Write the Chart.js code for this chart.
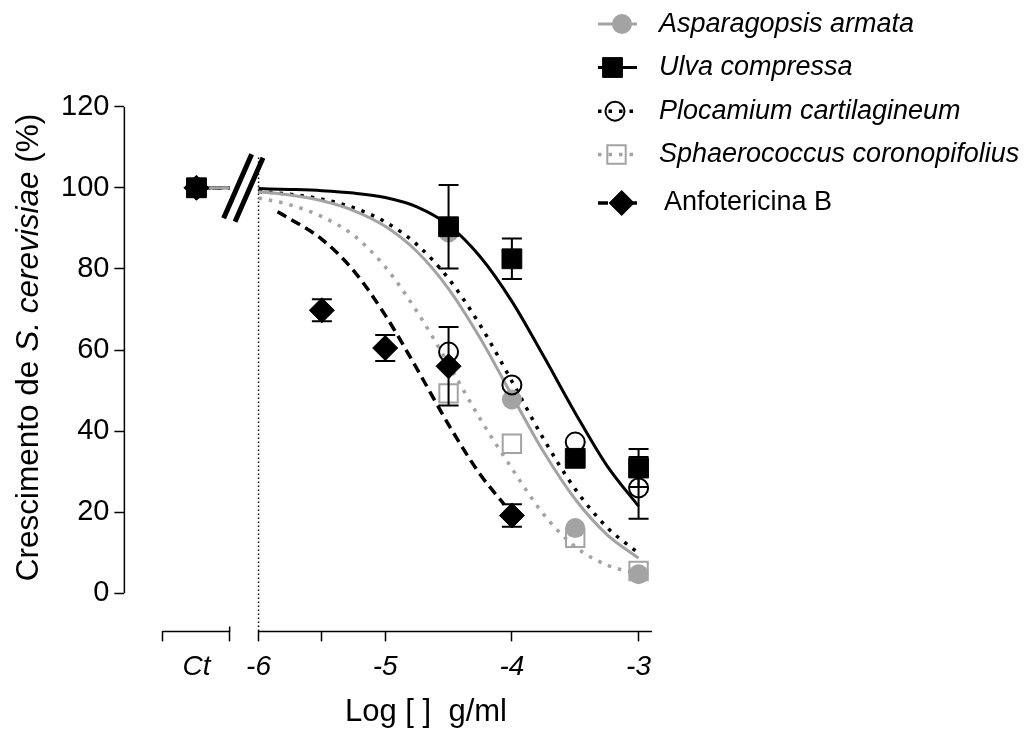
<!DOCTYPE html>
<html><head><meta charset="utf-8">
<script src="https://cdn.jsdelivr.net/npm/chart.js@4/dist/chart.umd.min.js"></script>
<style>html,body{margin:0;padding:0;background:#fff}#wrap{width:1025px;height:735px;position:relative}</style>
</head><body><div id="wrap"><canvas id="c" width="1025" height="735"></canvas></div>
<script>
// ---------------- data ----------------
const seriesNames = ['Asparagopsis armata', 'Ulva compressa', 'Plocamium cartilagineum', 'Sphaerococcus coronopifolius', 'Anfotericina B'];
const ctLabel = 'Ct';
const ctValues = [100, 100, 100, 100, 100];
const algaeLogConc = [-4.5, -4, -3.5, -3];
const anfoLogConc = [-5.5, -5, -4.5, -4];
const asparagopsisMean = [89.0, 47.8, 16.1, 4.7];
const asparagopsisSem  = [0, 0, 0, 0];
const ulvaMean = [90.4, 82.5, 33.3, 30.9];
const ulvaSem  = [10.3, 5.0, 0, 4.7];
const plocamiumMean = [59.5, 51.4, 37.3, 26.0];
const plocamiumSem  = [0, 0, 0, 7.6];
const sphaerococcusMean = [49.3, 36.9, 13.7, 5.5];
const sphaerococcusSem  = [0, 0, 0, 0];
const anfotericinaMean = [69.8, 60.5, 56.0, 19.2];
const anfotericinaSem  = [2.7, 3.2, 9.7, 2.8];
// fitted curves, values
const fitLogConc = [-6, -5.75, -5.5, -5.25, -5, -4.75, -4.5, -4.25, -4, -3.75, -3.5, -3.25, -3];
const asparagopsisFit  = [99.0, 98.2, 96.8, 94.4, 90.5, 84.3, 75.1, 62.9, 48.8, 34.9, 23.2, 14.5, 8.7];
const ulvaFit          = [99.8, 99.6, 99.3, 98.7, 97.6, 95.3, 90.8, 83.0, 72.0, 58.5, 44.5, 31.5, 21.5];
const plocamiumFit     = [99.1, 98.4, 97.2, 95.1, 91.6, 86.0, 77.6, 66.1, 52.3, 38.1, 25.7, 16.3, 9.9];
const sphaerococcusFit = [97.5, 95.8, 92.9, 88.3, 80.5, 69.5, 56.5, 43.0, 30.8, 19.5, 11.5, 7.0, 4.8];
const anfoFitLogConc = [-5.85, -5.75, -5.5, -5.25, -5, -4.75, -4.5, -4.25, -4.06];
const anfotericinaFit = [94.1, 92.3, 87.3, 79.6, 68.6, 55.4, 41.6, 29.3, 21.9];
const xTickLabels = ['-6', '-5', '-4', '-3'];
const xMinorTicks = [-5.5];
const yTickValues = [0, 20, 40, 60, 80, 100, 120];
const yTitleParts = [['Crescimento de ', false], ['S. cerevisiae', true], [' (%)', false]];
const xTitle = 'Log [ ]  g/ml';

// ---------------- layout / style ----------------
const FONT = 'Arial, "Liberation Sans", sans-serif';
const CT_X = -6.49, CT_SEG = [-6.756, -6.228];
const X_MIN = -7.059, X_MAX = -2.894, Y_MIN = -9.38, Y_MAX = 120;
const BLACK = '#000000', GRAY = '#a3a3a3';
const styles = [
  {color: GRAY,  dash: [],       shape: 'circle',  r: 10,   fill: GRAY,  bw: 0, lw: 3},
  {color: BLACK, dash: [],       shape: 'rect',    r: 14,   fill: BLACK, bw: 1, lw: 3},
  {color: BLACK, dash: [3.5, 7], shape: 'circle',  r: 9.5,  fill: 'rgba(0,0,0,0)', bw: 2, lw: 3.5},
  {color: GRAY,  dash: [3.5, 7], shape: 'rect',    r: 13,   fill: 'rgba(0,0,0,0)', bw: 2, lw: 3.5},
  {color: BLACK, dash: [10, 6],  shape: 'rectRot', r: 12.5, fill: BLACK, bw: 1, lw: 3.5}
];
const means = [asparagopsisMean, ulvaMean, plocamiumMean, sphaerococcusMean, anfotericinaMean];
const sems = [asparagopsisSem, ulvaSem, plocamiumSem, sphaerococcusSem, anfotericinaSem];
const concs = [algaeLogConc, algaeLogConc, algaeLogConc, algaeLogConc, anfoLogConc];
const fits = [asparagopsisFit, ulvaFit, plocamiumFit, sphaerococcusFit, anfotericinaFit];
const fitXs = [fitLogConc, fitLogConc, fitLogConc, fitLogConc, anfoFitLogConc];
const pointOrder = [3, 1, 2, 4, 0];

const datasets = [];
seriesNames.forEach((name, i) => {
  const s = styles[i];
  datasets.push({
    label: name, showLine: false, order: pointOrder[i], clip: false,
    data: [{x: CT_X, y: ctValues[i]}].concat(concs[i].map((x, j) => ({x, y: means[i][j]}))),
    pointStyle: s.shape, pointRadius: s.r, pointHoverRadius: s.r,
    pointBackgroundColor: s.fill, pointBorderColor: s.color, pointBorderWidth: s.bw,
    sem: [null].concat(sems[i])
  });
});
seriesNames.forEach((name, i) => {
  const s = styles[i];
  datasets.push({
    label: name + ' fit', showLine: true, order: 10 + i, clip: false,
    data: [{x: CT_X, y: ctValues[i]}, {x: CT_SEG[1], y: ctValues[i]}, {x: -6.1, y: null}]
      .concat(fitXs[i].map((x, j) => ({x, y: fits[i][j]}))),
    pointRadius: 0, borderColor: s.color, borderWidth: s.lw, borderDash: s.dash,
    cubicInterpolationMode: 'monotone', spanGaps: false, fill: false
  });
});

function drawMarker(ctx, s, x, y) {
  ctx.save();
  ctx.setLineDash([]);
  ctx.fillStyle = s.fill; ctx.strokeStyle = s.color; ctx.lineWidth = s.bw;
  ctx.beginPath();
  if (s.shape === 'circle') ctx.arc(x, y, s.r, 0, Math.PI * 2);
  else if (s.shape === 'rect') { const h = s.r * Math.SQRT1_2; ctx.rect(x - h, y - h, 2 * h, 2 * h); }
  else { ctx.moveTo(x, y - s.r); ctx.lineTo(x + s.r, y); ctx.lineTo(x, y + s.r); ctx.lineTo(x - s.r, y); ctx.closePath(); }
  ctx.fill();
  if (s.bw > 0) ctx.stroke();
  ctx.restore();
}

const deco = {
  id: 'deco',
  beforeDatasetsDraw(chart) {
    const {ctx, chartArea: a, scales: {x, y}} = chart;
    ctx.save();
    ctx.strokeStyle = BLACK; ctx.lineWidth = 1.5; ctx.setLineDash([]);
    // y axis line
    ctx.beginPath(); ctx.moveTo(a.left, y.getPixelForValue(0)); ctx.lineTo(a.left, y.getPixelForValue(Y_MAX)); ctx.stroke();
    // x axis segments
    ctx.beginPath();
    ctx.moveTo(x.getPixelForValue(CT_SEG[0]), a.bottom); ctx.lineTo(x.getPixelForValue(CT_SEG[1]), a.bottom);
    ctx.moveTo(x.getPixelForValue(-6), a.bottom); ctx.lineTo(a.right, a.bottom);
    ctx.moveTo(x.getPixelForValue(CT_SEG[1]), a.bottom); ctx.lineTo(x.getPixelForValue(CT_SEG[1]), a.bottom - 5);
    ctx.stroke();
    // dotted vertical line at -6
    ctx.lineWidth = 1.5; ctx.setLineDash([1.5, 2.5]);
    const x6 = x.getPixelForValue(-6);
    ctx.beginPath(); ctx.moveTo(x6, y.getPixelForValue(107.5)); ctx.lineTo(x6, a.bottom); ctx.stroke();
    // axis break marks
    ctx.setLineDash([]); ctx.lineWidth = 5;
    const yb = y.getPixelForValue(100);
    [-6.165, -6.075].forEach((v, k) => {
      const cx = x.getPixelForValue(v), cy = yb - 1.5 + k * 3.5;
      ctx.beginPath(); ctx.moveTo(cx - 14, cy + 32); ctx.lineTo(cx + 14, cy - 32); ctx.stroke();
    });
    ctx.restore();
  },
  afterDatasetsDraw(chart) {
    const {ctx, scales: {x, y}} = chart;
    ctx.save();
    ctx.strokeStyle = BLACK; ctx.lineWidth = 2; ctx.setLineDash([]);
    chart.data.datasets.forEach(ds => {
      if (!ds.sem) return;
      ds.data.forEach((p, j) => {
        const e = ds.sem[j];
        if (!e) return;
        const px = x.getPixelForValue(p.x), y1 = y.getPixelForValue(p.y + e), y2 = y.getPixelForValue(p.y - e);
        ctx.beginPath();
        ctx.moveTo(px, y1); ctx.lineTo(px, y2);
        ctx.moveTo(px - 10, y1); ctx.lineTo(px + 10, y1);
        ctx.moveTo(px - 10, y2); ctx.lineTo(px + 10, y2);
        ctx.stroke();
      });
    });
    ctx.restore();
  },
  afterDraw(chart) {
    const ctx = chart.ctx;
    ctx.save();
    // legend
    const rowY = [24, 67.5, 111.2, 154.5, 203];
    const markX = [622, 612.5, 615, 616.5, 621.7];
    seriesNames.forEach((name, i) => {
      const s = styles[i], yy = rowY[i];
      ctx.strokeStyle = s.color; ctx.lineWidth = s.lw; ctx.setLineDash(s.dash);
      ctx.beginPath(); ctx.moveTo(598, yy); ctx.lineTo(637, yy); ctx.stroke();
      drawMarker(ctx, s, markX[i], yy);
      ctx.fillStyle = BLACK; ctx.textBaseline = 'middle'; ctx.textAlign = 'left';
      ctx.font = (i < 4 ? 'italic ' : '') + '27px ' + FONT;
      ctx.fillText(name, i < 4 ? 659 : 664, yy);
    });
    // y title
    ctx.save();
    ctx.translate(29, 347.5); ctx.rotate(-Math.PI / 2);
    ctx.textBaseline = 'middle'; ctx.textAlign = 'left';
    let total = 0;
    yTitleParts.forEach(([t, it]) => { ctx.font = (it ? 'italic ' : '') + '31.5px ' + FONT; total += ctx.measureText(t).width; });
    let cx = -total / 2;
    yTitleParts.forEach(([t, it]) => { ctx.font = (it ? 'italic ' : '') + '31.5px ' + FONT; ctx.fillText(t, cx, 0); cx += ctx.measureText(t).width; });
    ctx.restore();
    // x title
    ctx.font = '31px ' + FONT; ctx.textAlign = 'center'; ctx.textBaseline = 'alphabetic';
    ctx.fillText(xTitle, 426, 721);
    ctx.restore();
  }
};

new Chart(document.getElementById('c'), {
  type: 'scatter',
  data: {datasets},
  options: {
    responsive: false, animation: false, events: [],
    layout: {padding: {left: 56, right: 373, top: 106.7, bottom: 42}},
    plugins: {legend: {display: false}, tooltip: {enabled: false}},
    scales: {
      x: {
        type: 'linear', min: X_MIN, max: X_MAX,
        afterBuildTicks: sc => {
          const vals = [CT_SEG[0], CT_X, CT_SEG[1]].concat(xTickLabels.map(Number), xMinorTicks).sort((a, b) => a - b);
          sc.ticks = vals.map(v => ({value: v}));
        },
        ticks: {
          autoSkip: false, maxRotation: 0, minRotation: 0, padding: 9, color: BLACK,
          font: {family: FONT, size: 28, style: 'italic'},
          callback: v => v === CT_X ? ctLabel : (xTickLabels.indexOf(String(v)) >= 0 ? String(v) : '')
        },
        grid: {drawOnChartArea: false, drawTicks: true, tickLength: 10, tickWidth: 1.5,
          tickColor: c => (c.tick && c.tick.value === CT_X) ? 'rgba(0,0,0,0)' : BLACK},
        border: {display: false}
      },
      y: {
        type: 'linear', min: Y_MIN, max: Y_MAX,
        afterBuildTicks: sc => { sc.ticks = yTickValues.map(v => ({value: v})); },
        ticks: {padding: 5, color: BLACK, font: {family: FONT, size: 29}},
        grid: {drawOnChartArea: false, drawTicks: true, tickLength: 10, tickWidth: 1.5, tickColor: BLACK},
        border: {display: false}
      }
    }
  },
  plugins: [deco]
});
</script>
</body></html>
